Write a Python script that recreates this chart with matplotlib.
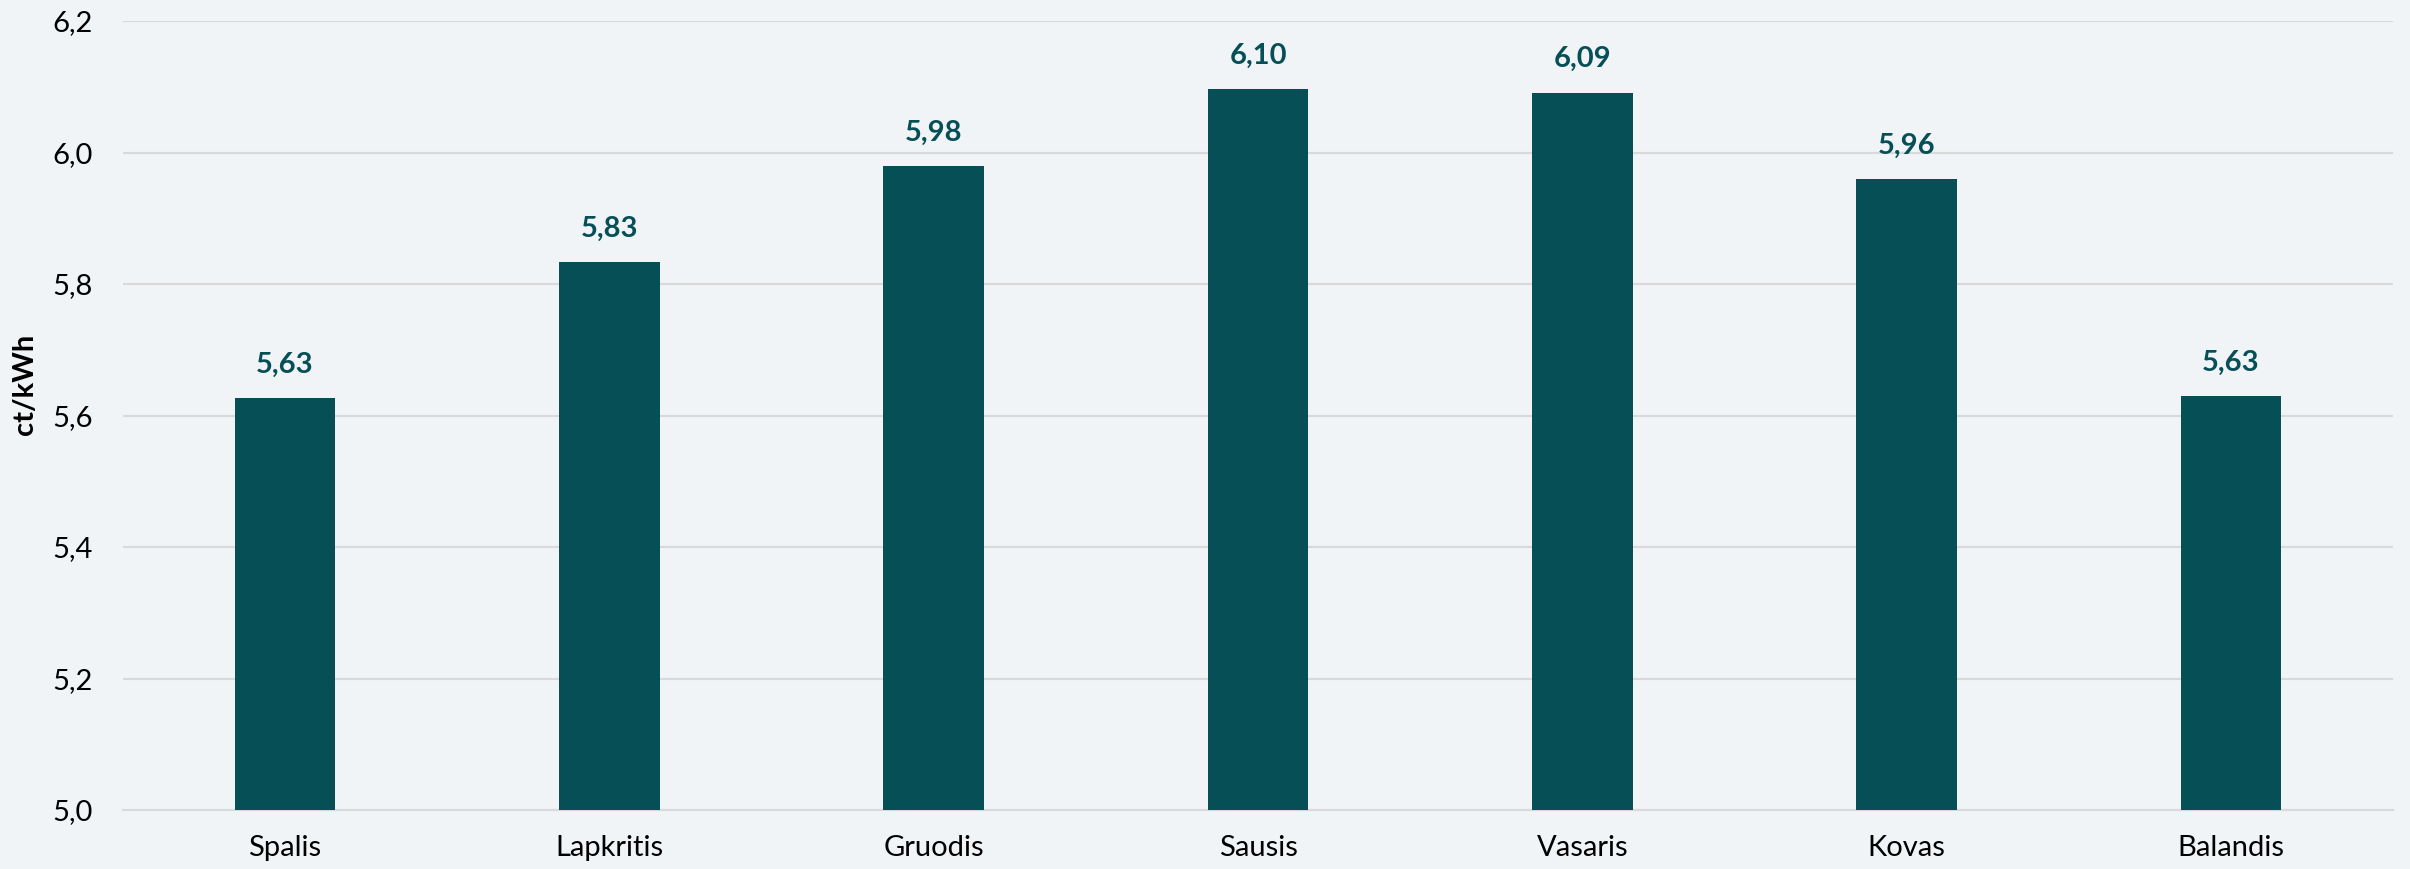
import matplotlib.pyplot as plt

# Monthly price, ct/kWh
months = ["Spalis", "Lapkritis", "Gruodis", "Sausis", "Vasaris", "Kovas", "Balandis"]
prices = [5.626, 5.833, 5.979, 6.096, 6.091, 5.959, 5.629]
y_ticks = [5.0, 5.2, 5.4, 5.6, 5.8, 6.0, 6.2]

bg = "#F0F4F7"
bar_color = "#074F57"
grid_color = "#D9D9D9"

plt.rcParams['font.family'] = ['Lato', 'DejaVu Sans']

fig = plt.figure(figsize=(24.10, 8.69), dpi=100, facecolor=bg)
ax = fig.add_axes([0.051, 0.0679, 0.942, 0.9079])
ax.set_facecolor(bg)

x = list(range(len(months)))
bars = ax.bar(x, prices, width=0.31, color=bar_color, zorder=3)

for xi, v in zip(x, prices):
    ax.annotate(f"{v:.2f}".replace(".", ","), (xi, v), xytext=(0, 15),
                textcoords="offset points", ha="center", va="bottom",
                fontsize=21, fontweight="bold", color=bar_color)

ax.set_xlim(-0.5, len(months) - 0.5)
ax.set_ylim(5.0, 6.2)
ax.set_yticks(y_ticks)
ax.set_yticklabels([f"{t:.1f}".replace(".", ",") for t in y_ticks])
ax.set_xticks(x)
ax.set_xticklabels(months)

ax.grid(axis="y", color=grid_color, linewidth=1.5, zorder=0)
for s in ["top", "right", "left"]:
    ax.spines[s].set_visible(False)
ax.spines["bottom"].set_color(grid_color)
ax.spines["bottom"].set_linewidth(1.5)

ax.tick_params(axis="y", length=0, pad=22, labelsize=21, labelcolor="black")
ax.tick_params(axis="x", length=0, pad=18, labelsize=21, labelcolor="black")

fig.text(25 / 2410, 1 - 384 / 869, "ct/kWh", rotation=90, ha="center", va="center",
         fontsize=21, fontweight="bold")

fig.savefig("out.png", dpi=100, facecolor=bg)
